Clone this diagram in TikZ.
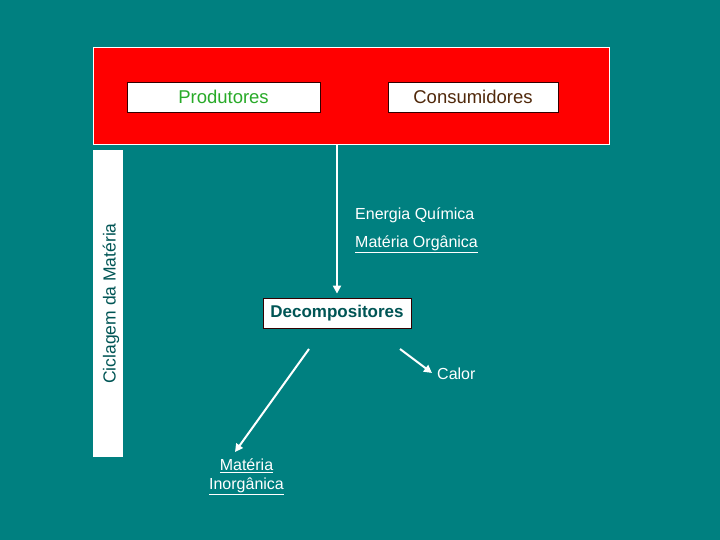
\documentclass[tikz,border=0pt]{standalone}
\usepackage{fontspec}
\setmainfont{Liberation Sans}
\usetikzlibrary{arrows.meta, positioning}

\definecolor{seabg}{RGB}{0,128,128}
\definecolor{darkteal}{RGB}{0,85,85}
\definecolor{prodgreen}{RGB}{40,170,40}
\definecolor{consbrown}{RGB}{80,40,10}

\begin{document}
\begin{tikzpicture}[
    x=1pt, y=-1pt,
    every node/.style={font=\fontsize{16}{19}\selectfont},
    panel/.style={draw=white, fill=red, line width=1pt, minimum width=516pt, minimum height=97pt, inner sep=0pt},
    level/.style={draw=black!80!red, fill=white, line width=0.8pt, minimum height=30pt, inner sep=0pt, font=\fontsize{18.5}{20}\selectfont},
    sidebar/.style={fill=white, minimum width=30pt, minimum height=307pt, inner sep=0pt},
    flow/.style={white, line width=2pt, -{Triangle[length=8pt, width=8pt]}},
    label/.style={white, inner sep=0pt},
]

% Background
\fill[seabg] (0,0) rectangle (720,540);
\useasboundingbox (0,0) rectangle (720,540);

% Trophic levels on the red panel
\node[panel] (panel) at (351,96.5) {};
\node[level, minimum width=193pt, text=prodgreen] (prod) at (223.5,97) {Produtores};
\node[level, minimum width=170pt, text=consbrown] (cons) at (473,97) {Consumidores};

% Side bar
\node[sidebar] (bar) at (108,303.5) {};
\node[rotate=90, text=darkteal, inner sep=0pt, font=\fontsize{17.5}{20}\selectfont] (cycle) at (111,303.5) {Ciclagem da Matéria};

% Decomposers
\node[level, minimum width=148pt, text=darkteal, font=\fontsize{17}{19}\selectfont\bfseries] (decomp) at (337,313) {Decompositores};

\node[label, anchor=west] (energy) at (355,215) {Energia Química};
\node[label, anchor=west] (organic) at (355,244) {\underline{Matéria Orgânica}};
\node[label, anchor=west] (heat) at (437,374) {Calor};
\node[label, align=center, font=\fontsize{16}{19}\selectfont] (inorganic) at (246.5,477) {\underline{Matéria}\\\underline{Inorgânica}};

% Flows
\coordinate (outL) at (309,349);
\coordinate (outR) at (400,349);
\draw[flow, shorten >=4pt] (decomp.north |- panel.south) -- (decomp.north);
\draw[flow] (outL) -- (235,452);
\draw[flow] (outR) -- (432,373);

\end{tikzpicture}
\end{document}
